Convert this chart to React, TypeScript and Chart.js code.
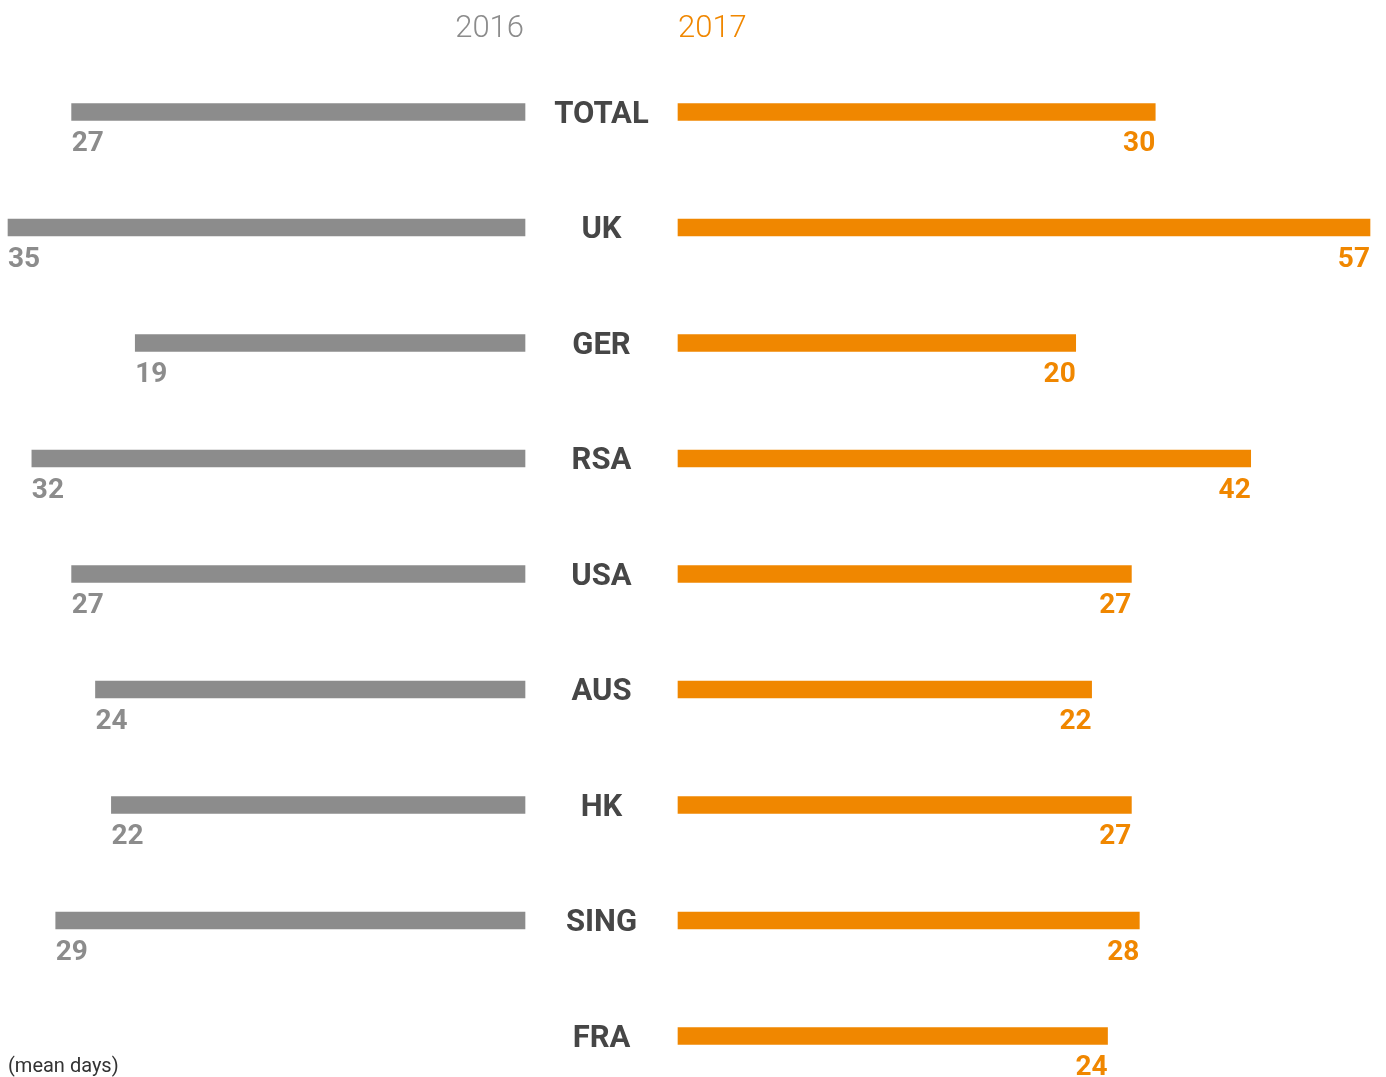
import React, { useEffect, useRef } from "react";
import { Chart, registerables } from "chart.js";

Chart.register(...registerables);

const categories = ["TOTAL", "UK", "GER", "RSA", "USA", "AUS", "HK", "SING", "FRA"];
const values2016: (number | null)[] = [27, 35, 19, 32, 27, 24, 22, 29, null];
const values2017: number[] = [30, 57, 20, 42, 27, 22, 27, 28, 24];
const seriesLabels = ["2016", "2017"];
const unitNote = "(mean days)";

const AXIS_MIN = -30;
const GREY = "#8c8c8c";
const ORANGE = "#f08700";
const DARK = "#464646";
const FONT = "Roboto, 'Open Sans', sans-serif";

const W = 1386;
const H = 1077;

const valueLabelPlugin = (side: "left" | "right") => ({
  id: "valueLabels" + side,
  afterDatasetsDraw(chart: any) {
    const ctx = chart.ctx;
    const meta = chart.getDatasetMeta(0);
    const data = chart.data.datasets[0].data;
    const color = side === "left" ? GREY : ORANGE;
    ctx.save();
    ctx.font = `bold 28px ${FONT}`;
    ctx.fillStyle = color;
    ctx.textBaseline = "middle";
    ctx.textAlign = side === "left" ? "left" : "right";
    meta.data.forEach((el: any, i: number) => {
      const v = data[i];
      if (v === null || v === undefined) return;
      ctx.fillText(String(v), el.x, el.y + 32);
    });
    // header
    const area = chart.chartArea;
    ctx.font = `300 31px ${FONT}`;
    ctx.textAlign = side === "left" ? "right" : "left";
    ctx.fillText(
      side === "left" ? seriesLabels[0] : seriesLabels[1],
      side === "left" ? area.right - 1 : area.left,
      29
    );
    if (side === "left") {
      ctx.font = `20px ${FONT}`;
      ctx.fillStyle = "#333333";
      ctx.textAlign = "left";
      ctx.fillText(unitNote, area.left, 1067);
    } else {
      // category labels centred in the gap between the two charts
      const yScale = chart.scales.y;
      ctx.font = `bold 31px ${FONT}`;
      ctx.fillStyle = DARK;
      ctx.textAlign = "center";
      categories.forEach((c, i) => {
        ctx.fillText(c, area.left - 76.5, yScale.getPixelForValue(i) + 3);
      });
    }
    ctx.restore();
  },
});

function makeConfig(side: "left" | "right"): any {
  const isLeft = side === "left";
  return {
    type: "bar",
    data: {
      labels: categories,
      datasets: [
        {
          label: isLeft ? seriesLabels[0] : seriesLabels[1],
          data: isLeft ? values2016 : values2017,
          backgroundColor: isLeft ? GREY : ORANGE,
          borderWidth: 0,
          barThickness: 17,
          base: AXIS_MIN,
          clip: false,
        },
      ],
    },
    options: {
      indexAxis: "y",
      responsive: false,
      animation: false,
      layout: {
        padding: isLeft
          ? { left: 8, right: W - 525, top: 112, bottom: H - 1036 }
          : { left: 678, right: W - 1370, top: 112, bottom: H - 1036 },
      },
      plugins: {
        legend: { display: false },
        tooltip: { enabled: false },
        title: { display: false },
      },
      scales: {
        x: {
          display: false,
          reverse: isLeft,
          min: AXIS_MIN,
          max: isLeft ? 35 : 57,
        },
        y: {
          display: false,
          offset: false,
          grid: { display: false },
        },
      },
    },
    plugins: [valueLabelPlugin(side)],
  };
}

export default function App() {
  const leftRef = useRef<HTMLCanvasElement>(null);
  const rightRef = useRef<HTMLCanvasElement>(null);

  useEffect(() => {
    const l = new Chart(leftRef.current as HTMLCanvasElement, makeConfig("left"));
    const r = new Chart(rightRef.current as HTMLCanvasElement, makeConfig("right"));
    return () => {
      l.destroy();
      r.destroy();
    };
  }, []);

  const canvasStyle: React.CSSProperties = {
    position: "absolute",
    left: 0,
    top: 0,
    width: W,
    height: H,
  };

  return (
    <div
      style={{
        position: "fixed",
        left: 0,
        top: 0,
        width: W,
        height: H,
        background: "#ffffff",
        overflow: "hidden",
      }}
    >
      <canvas ref={leftRef} width={W} height={H} style={canvasStyle} />
      <canvas ref={rightRef} width={W} height={H} style={canvasStyle} />
    </div>
  );
}
